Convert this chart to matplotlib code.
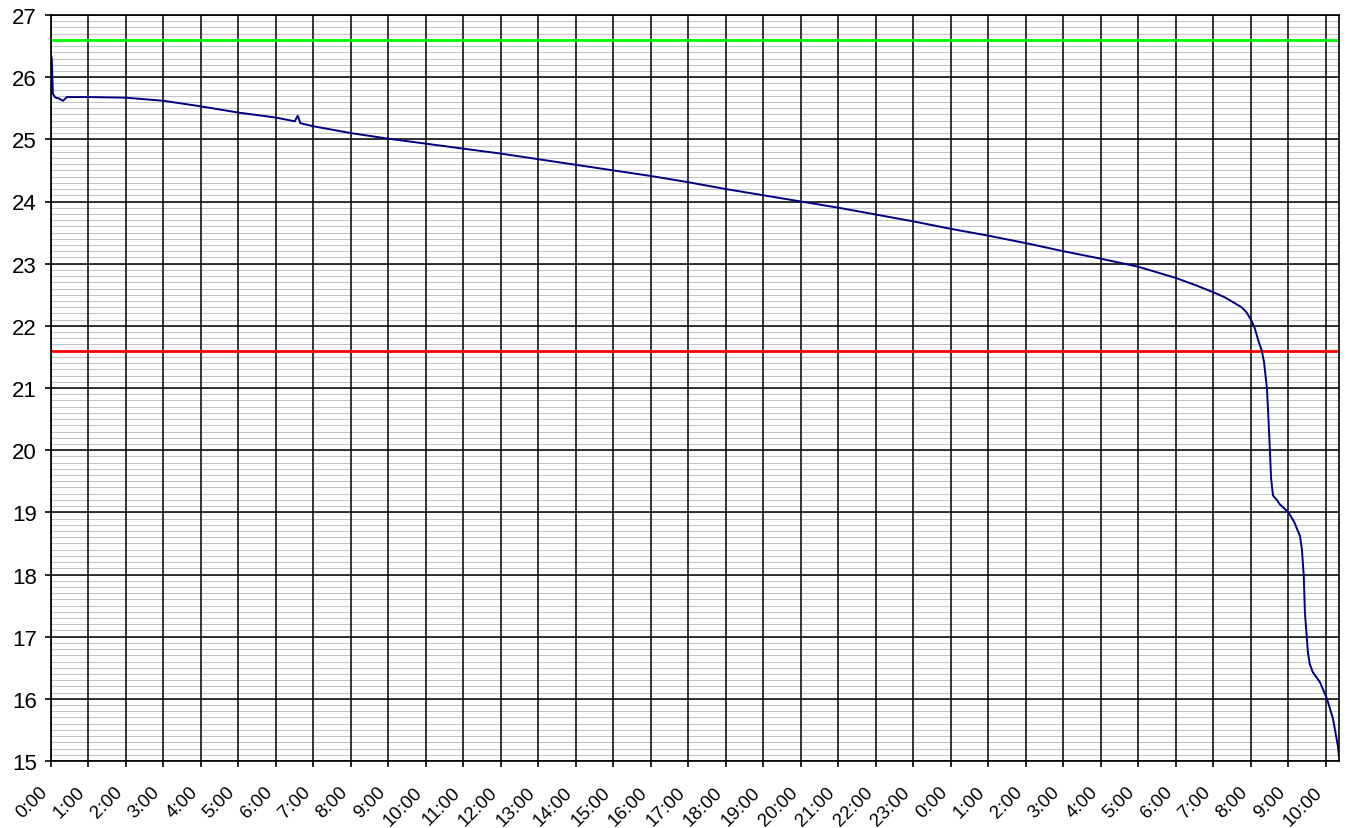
import numpy as np
import matplotlib.pyplot as plt
from matplotlib.transforms import ScaledTranslation

plt.rcParams['font.family'] = ['Liberation Sans', 'DejaVu Sans']

# elapsed time in hours since start, battery voltage
hours = [0, 0.02, 0.05, 0.12, 0.2, 0.32, 0.42, 0.7, 1, 2, 3, 4, 5, 6,
         6.5, 6.58, 6.65, 7, 8, 9, 10, 11, 12, 13, 14, 15, 16, 17, 18,
         19, 20, 21, 22, 23, 24, 25, 26, 27, 28, 29, 30, 30.5, 31, 31.3,
         31.75, 31.88, 32.02, 32.11, 32.2, 32.29, 32.35, 32.43, 32.49,
         32.54, 32.59, 32.69, 32.77, 33.0, 33.15, 33.31, 33.36, 33.41,
         33.44, 33.52, 33.57, 33.65, 33.84, 34.03, 34.19, 34.32, 34.35]
volts = [26.35, 26.3, 25.73, 25.67, 25.66, 25.62, 25.68, 25.68, 25.68,
         25.67, 25.62, 25.53, 25.43, 25.35, 25.29, 25.38, 25.26, 25.21,
         25.1, 25.01, 24.93, 24.85, 24.77, 24.68, 24.59, 24.5, 24.41,
         24.31, 24.2, 24.1, 24.0, 23.9, 23.79, 23.68, 23.56, 23.45, 23.33,
         23.2, 23.08, 22.95, 22.77, 22.66, 22.54, 22.46, 22.3, 22.22,
         22.08, 21.95, 21.76, 21.6, 21.42, 20.98, 20.23, 19.54, 19.27,
         19.2, 19.13, 19.0, 18.85, 18.62, 18.41, 17.98, 17.4, 16.75,
         16.56, 16.43, 16.27, 16.0, 15.68, 15.24, 15.08]

upper_limit = 26.6
lower_limit = 21.6

tick_labels = ["0:00", "1:00", "2:00", "3:00", "4:00", "5:00", "6:00",
               "7:00", "8:00", "9:00", "10:00", "11:00", "12:00", "13:00",
               "14:00", "15:00", "16:00", "17:00", "18:00", "19:00",
               "20:00", "21:00", "22:00", "23:00", "0:00", "1:00", "2:00",
               "3:00", "4:00", "5:00", "6:00", "7:00", "8:00", "9:00",
               "10:00"]

fig = plt.figure(figsize=(13.48, 8.29), dpi=100)
ax = fig.add_axes([51 / 1348, 1 - 762 / 829, 1288 / 1348, 746 / 829])

ax.set_xlim(0, 34.35)
ax.set_ylim(15, 27)
xt = np.arange(len(tick_labels))
yt = np.arange(15, 28)
ax.set_xticks(xt)
ax.set_xticklabels(tick_labels, rotation=45, ha='right', va='center',
                   rotation_mode='anchor', fontsize=13.5)
ax.set_yticks(yt)
ax.tick_params(axis='y', labelsize=16, length=4.3, width=1.2, pad=6)
ax.tick_params(axis='x', length=4.3, width=1.2, pad=16)
# nudge the slanted labels a little left of their ticks
shift = ScaledTranslation(-6 / 100, 0, fig.dpi_scale_trans)
for lab in ax.get_xticklabels():
    lab.set_transform(lab.get_transform() + shift)

# grid: thin grey every 0.1 V, black on whole volts and hours
ax.hlines(np.arange(15, 27.001, 0.1), 0, 34.35, color='#c4c4c4', lw=0.75, zorder=1)
ax.hlines(yt, 0, 34.35, color='black', lw=1.1, zorder=2)
ax.vlines(xt, 15, 27, color='black', lw=1.1, zorder=2)

ax.axhline(upper_limit, color='#00ff00', lw=2, zorder=3)
ax.axhline(lower_limit, color='#ff0000', lw=2, zorder=3)
ax.plot(hours, volts, color='#000080', lw=1.4, zorder=4)

for s in ax.spines.values():
    s.set_linewidth(1.2)
    s.set_zorder(5)

fig.savefig('out.png', dpi=100)
